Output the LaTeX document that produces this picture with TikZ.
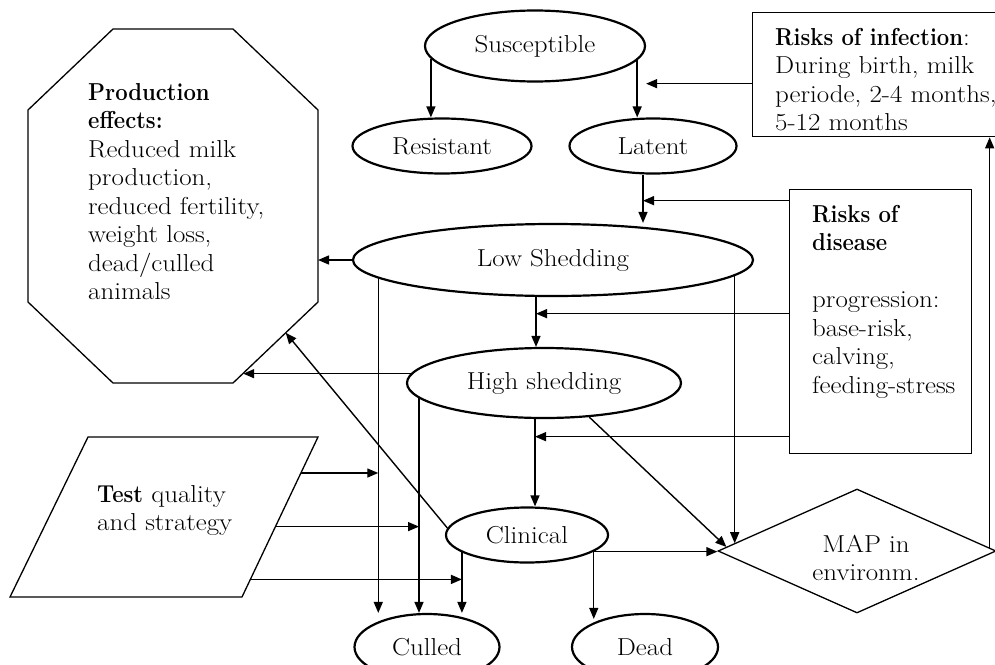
\documentclass[tikz,border=0pt]{standalone}
\usepackage{fontspec}
\setmainfont{Latin Modern Roman}[FakeStretch=1.1,BoldFeatures={FakeStretch=0.9}]
\usetikzlibrary{shapes.geometric,arrows.meta,calc}
\begin{document}
\begin{tikzpicture}[x=1pt,y=-1pt,
  every node/.style={font=\fontsize{24.5}{28.5}\selectfont},
  ell/.style={ellipse,draw,line width=2.2pt,inner sep=0pt},
  frame/.style={draw,line width=1.3pt},
  txt/.style={anchor=north west,align=left,inner sep=0pt},
  arr/.style={line width=1.4pt,-{Triangle[length=11pt,width=9pt]}}]
\useasboundingbox (0,0) rectangle (995,664);
% state ellipses
\node[ell,minimum width=220pt,minimum height=71pt] (S) at (535,46) {Susceptible};
\node[ell,minimum width=179pt,minimum height=55pt] (R) at (442,146) {Resistant};
\node[ell,minimum width=167pt,minimum height=55pt] (L) at (653,146) {Latent};
\node[ell,minimum width=400pt,minimum height=72pt] (LS) at (553,260) {Low Shedding};
\node[ell,minimum width=274pt,minimum height=70pt] (HS) at (544,383) {High shedding};
\node[ell,minimum width=162pt,minimum height=55pt] (C) at (527,535) {Clinical};
\node[ell,minimum width=145pt,minimum height=66pt] (Cu) at (427,647) {Culled};
\node[ell,minimum width=146pt,minimum height=66pt] (D) at (645,647) {Dead};
% boxes
\node[frame,anchor=north west,minimum width=260pt,minimum height=124pt,inner sep=0pt] (IB) at (752,12) {};
\node[txt] (IBt) at (775,28) {\textbf{Risks of infection}:\\During birth, milk\\periode, 2-4 months,\\5-12 months};
\node[frame,anchor=north west,minimum width=182pt,minimum height=264pt,inner sep=0pt] (DB) at (789,189) {};
\node[txt] (DBt) at (812,205) {\textbf{Risks of}\\\textbf{disease}\\[28.5pt]progression:\\base-risk,\\calving,\\feeding-stress};
% octagon
\coordinate (o1) at (113,29); \coordinate (o2) at (233,29);
\coordinate (o3) at (318,110); \coordinate (o4) at (318,302);
\coordinate (o5) at (233,383); \coordinate (o6) at (113,383);
\coordinate (o7) at (28,302); \coordinate (o8) at (28,110);
\draw[frame] (o1)--(o2)--(o3)--(o4)--(o5)--(o6)--(o7)--(o8)--cycle;
\node[txt] (PE) at (88,83) {\textbf{Production}\\\textbf{effects:}\\Reduced milk\\production,\\reduced fertility,\\weight loss,\\dead/culled\\animals};
\coordinate (PEa) at (318,260);
\coordinate (PEb) at ($(o4)!0.38!(o5)$);
\coordinate (PEc) at ($(o4)!0.88!(o5)$);
% parallelogram
\coordinate (q1) at (88,437); \coordinate (q2) at (318,437);
\coordinate (q3) at (242,597); \coordinate (q4) at (10,597);
\draw[frame] (q1)--(q2)--(q3)--(q4)--cycle;
\node[txt] (TQ) at (97,485) {\textbf{Test} quality\\and strategy};
% diamond
\node[diamond,draw,line width=1.3pt,minimum width=278pt,minimum height=124pt,inner sep=0pt] (MAP) at (857,551) {};
\node[align=center,inner sep=0pt] (MAPt) at (866,558) {MAP in\\environm.};
% connectors
\draw[arr] (S.187) -- (S.187 |- R.north);
\draw[arr] (S.352) -- (S.352 |- L.north);
\coordinate (i1) at ([yshift=-9pt]IB.west);
\draw[arr] (i1) -- (i1 -| S.east);
\coordinate (l1) at ([xshift=-10pt]L.south);
\draw[arr] (l1) -- (l1 |- LS.north);
\coordinate (d1) at ([yshift=121pt]DB.west);
\draw[arr] (d1) -- (d1 -| l1);
\draw[arr] (LS.west) -- (PEa);
\coordinate (l2) at ([xshift=-17pt]LS.south);
\draw[arr] (l2) -- (l2 |- HS.north);
\coordinate (d2) at ([yshift=8pt]DB.west);
\draw[arr] (d2) -- (d2 -| l2);
\draw[arr] (HS.176) -- (HS.176 -| PEc);
\draw[arr] (C.175) -- (PEb);
\draw[arr] (LS.186) -- (LS.186 |- Cu.north);
\coordinate (m1) at ($(LS.355)+(0,400)$);
\draw[arr] (LS.355) -- (intersection of LS.355--m1 and MAP.west--MAP.north);
\draw[arr] (HS.187) -- (HS.187 |- Cu.north);
\draw[arr] (HS.323) -- ($(MAP.west)!0.065!(MAP.north)$);
\coordinate (h1) at ([xshift=-9pt]HS.south);
\draw[arr] (h1) -- (h1 |- C.north);
\coordinate (d3) at ([yshift=-115pt]DB.west);
\draw[arr] (d3) -- (d3 -| h1);
\draw[arr] (C.346) -- (C.346 -| MAP.west);
\coordinate (c1) at ([yshift=-6pt]C.346 |- D.north);
\draw[arr] (C.346) -- (c1);
\draw[arr] (C.195) -- (C.195 |- Cu.north);
\coordinate (t1) at ($(q2)!0.225!(q3)$);
\coordinate (t2) at ($(q2)!0.56!(q3)$);
\coordinate (t3) at ($(q2)!0.89!(q3)$);
\draw[arr] (t1) -- (t1 -| LS.186);
\draw[arr] (t2) -- (t2 -| HS.187);
\draw[arr] (t3) -- (t3 -| C.195);
\coordinate (r1) at ($(MAP.north)!0.95!(MAP.east)$);
\draw[arr] (r1) -- (r1 |- IB.south);
\end{tikzpicture}
\end{document}
